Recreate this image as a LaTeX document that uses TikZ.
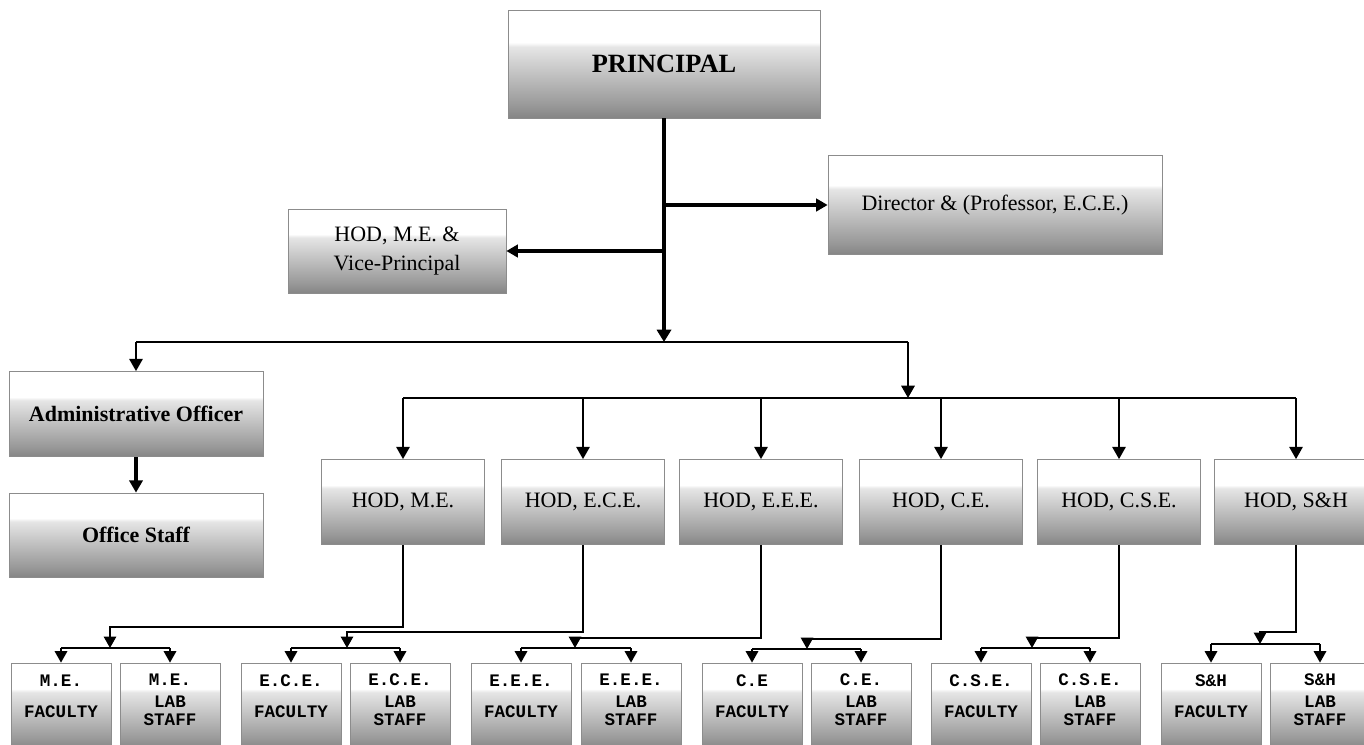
\documentclass[tikz,border=0pt]{standalone}
\usepackage{fontspec}
\setmainfont{Liberation Serif}
\setmonofont{Liberation Mono}
\usetikzlibrary{arrows.meta}
\pgfdeclareverticalshading{boxshade}{100bp}{color(0bp)=(black!48); color(25bp)=(black!48); color(31bp)=(black!40); color(58bp)=(black!10); color(60bp)=(white); color(100bp)=(white)}
\tikzset{
  orgbox/.style={draw=black!45, shade, shading=boxshade, inner sep=2pt, align=center, font=\fontsize{12.5}{15}\selectfont},
  staffbox/.style={draw=black!45, shade, shading=boxshade, minimum width=100*0.02cm, minimum height=86*0.02cm},
  stafflabl/.style={inner sep=0pt, align=center, font=\ttfamily\bfseries\fontsize{10}{11.5}\selectfont},
  bigarrow/.style={line width=2.4pt, -{Triangle[width=8pt,length=7pt]}},
  midarrow/.style={line width=1.8pt, -{Triangle[width=7pt,length=6.5pt]}},
  barline/.style={line width=1.4pt},
  bararrow/.style={line width=1.4pt, -{Triangle[width=7.5pt,length=7pt]}},
  staffline/.style={line width=1.1pt},
  staffarrow/.style={line width=1.1pt, -{Triangle[width=7pt,length=6.5pt]}},
}
\newcommand{\orgbox}[6]{\node[orgbox, minimum width=#4*0.02cm, minimum height=#5*0.02cm] (#1) at (#2,#3) {#6};}
\newcommand{\staffbox}[4]{\node[staffbox] (#1) at (#2,706) {}; \node[stafflabl] (#1t) at (#2,#3) {#4};}

\begin{document}
\begin{tikzpicture}[x=0.02cm,y=-0.02cm]
    \useasboundingbox (0,0) rectangle (1364,744);
    \clip (0,0) rectangle (1364,744);
    % top
    \orgbox{principal}{664}{64}{312}{108}{\fontsize{15}{18}\selectfont\bfseries PRINCIPAL}
    \orgbox{director}{995}{205}{334}{99}{Director \& (Professor, E.C.E.)}
    \orgbox{vicep}{397}{251}{218}{84}{HOD, M.E. \&\\[1.5pt]Vice-Principal}
    % office
    \orgbox{admin}{136}{414}{254}{85}{\bfseries Administrative Officer}
    \orgbox{office}{136}{535}{254}{84}{\bfseries Office Staff}
    % heads of department
    \orgbox{hodme}{403}{502}{163}{85}{HOD, M.E.}
    \orgbox{hodece}{583}{502}{163}{85}{HOD, E.C.E.}
    \orgbox{hodeee}{761}{502}{163}{85}{HOD, E.E.E.}
    \orgbox{hodce}{941}{502}{163}{85}{HOD, C.E.}
    \orgbox{hodcse}{1119}{502}{163}{85}{HOD, C.S.E.}
    \orgbox{hodsh}{1296}{502}{163}{85}{HOD, S\&H}
    % staff row
    \staffbox{mefac}{61}{696}{M.E.\\[6pt]FACULTY}
    \staffbox{melab}{170}{700}{M.E.\\[1pt]LAB\\[-1.3pt]STAFF}
    \staffbox{ecefac}{291}{696}{E.C.E.\\[6pt]FACULTY}
    \staffbox{ecelab}{400}{700}{E.C.E.\\[1pt]LAB\\[-1.3pt]STAFF}
    \staffbox{eeefac}{521}{696}{E.E.E.\\[6pt]FACULTY}
    \staffbox{eeelab}{631}{700}{E.E.E.\\[1pt]LAB\\[-1.3pt]STAFF}
    \staffbox{cefac}{752}{696}{C.E\\[6pt]FACULTY}
    \staffbox{celab}{861}{700}{C.E.\\[1pt]LAB\\[-1.3pt]STAFF}
    \staffbox{csefac}{981}{696}{C.S.E.\\[6pt]FACULTY}
    \staffbox{cselab}{1090}{700}{C.S.E.\\[1pt]LAB\\[-1.3pt]STAFF}
    \staffbox{shfac}{1211}{696}{S\&H\\[6pt]FACULTY}
    \staffbox{shlab}{1320}{700}{S\&H\\[1pt]LAB\\[-1.3pt]STAFF}

    % connectors from principal
    \coordinate (barA) at (136,342);
    \coordinate (barB) at (908,342);
    \draw[bigarrow] (principal.south) -- (principal.south |- barA);
    \draw[midarrow] (principal.south |- director.west) -- (director.west);
    \draw[midarrow] (principal.south |- vicep.east) -- (vicep.east);
    \draw[barline] (barA) -- (barB);
    \draw[bararrow] (barA) -- (admin.north);
    \draw[bararrow, line width=2pt] (admin.south) -- (office.north);

    % connectors to heads
    \coordinate (hodL) at (403,398);
    \coordinate (hodR) at (1296,398);
    \draw[bararrow] (barB) -- (barB |- hodL);
    \draw[barline] (hodL) -- (hodR);
    \draw[bararrow] (hodme.north |- hodL) -- (hodme.north);
    \draw[bararrow] (hodece.north |- hodL) -- (hodece.north);
    \draw[bararrow] (hodeee.north |- hodL) -- (hodeee.north);
    \draw[bararrow] (hodce.north |- hodL) -- (hodce.north);
    \draw[bararrow] (hodcse.north |- hodL) -- (hodcse.north);
    \draw[bararrow] (hodsh.north |- hodL) -- (hodsh.north);

    % M.E.
    \coordinate (meA) at (110,627);
    \coordinate (meB) at (110,648);
    \draw[staffarrow] (hodme.south) |- (meA) -- (meB);
    \draw[staffline] (mefac.north |- meB) -- (melab.north |- meB);
    \draw[staffarrow] (mefac.north |- meB) -- (mefac.north);
    \draw[staffarrow] (melab.north |- meB) -- (melab.north);
    % E.C.E.
    \coordinate (eceA) at (347,632);
    \coordinate (eceB) at (347,648);
    \draw[staffarrow] (hodece.south) |- (eceA) -- (eceB);
    \draw[staffline] (ecefac.north |- eceB) -- (ecelab.north |- eceB);
    \draw[staffarrow] (ecefac.north |- eceB) -- (ecefac.north);
    \draw[staffarrow] (ecelab.north |- eceB) -- (ecelab.north);
    % E.E.E.
    \coordinate (eeeA) at (575,638);
    \coordinate (eeeB) at (575,648);
    \draw[staffarrow] (hodeee.south) |- (eeeA) -- (eeeB);
    \draw[staffline] (eeefac.north |- eeeB) -- (eeelab.north |- eeeB);
    \draw[staffarrow] (eeefac.north |- eeeB) -- (eeefac.north);
    \draw[staffarrow] (eeelab.north |- eeeB) -- (eeelab.north);
    % C.E.
    \coordinate (ceA) at (807,639);
    \coordinate (ceB) at (807,649);
    \draw[staffarrow] (hodce.south) |- (ceA) -- (ceB);
    \draw[staffline] (cefac.north |- ceB) -- (celab.north |- ceB);
    \draw[staffarrow] (cefac.north |- ceB) -- (cefac.north);
    \draw[staffarrow] (celab.north |- ceB) -- (celab.north);
    % C.S.E.
    \coordinate (cseA) at (1032,638);
    \coordinate (cseB) at (1032,648);
    \draw[staffarrow] (hodcse.south) |- (cseA) -- (cseB);
    \draw[staffline] (csefac.north |- cseB) -- (cselab.north |- cseB);
    \draw[staffarrow] (csefac.north |- cseB) -- (csefac.north);
    \draw[staffarrow] (cselab.north |- cseB) -- (cselab.north);
    % S&H
    \coordinate (shA) at (1260,632);
    \coordinate (shB) at (1260,644);
    \draw[staffarrow] (hodsh.south) |- (shA) -- (shB);
    \draw[staffline] (shfac.north |- shB) -- (shlab.north |- shB);
    \draw[staffarrow] (shfac.north |- shB) -- (shfac.north);
    \draw[staffarrow] (shlab.north |- shB) -- (shlab.north);
\end{tikzpicture}
\end{document}
